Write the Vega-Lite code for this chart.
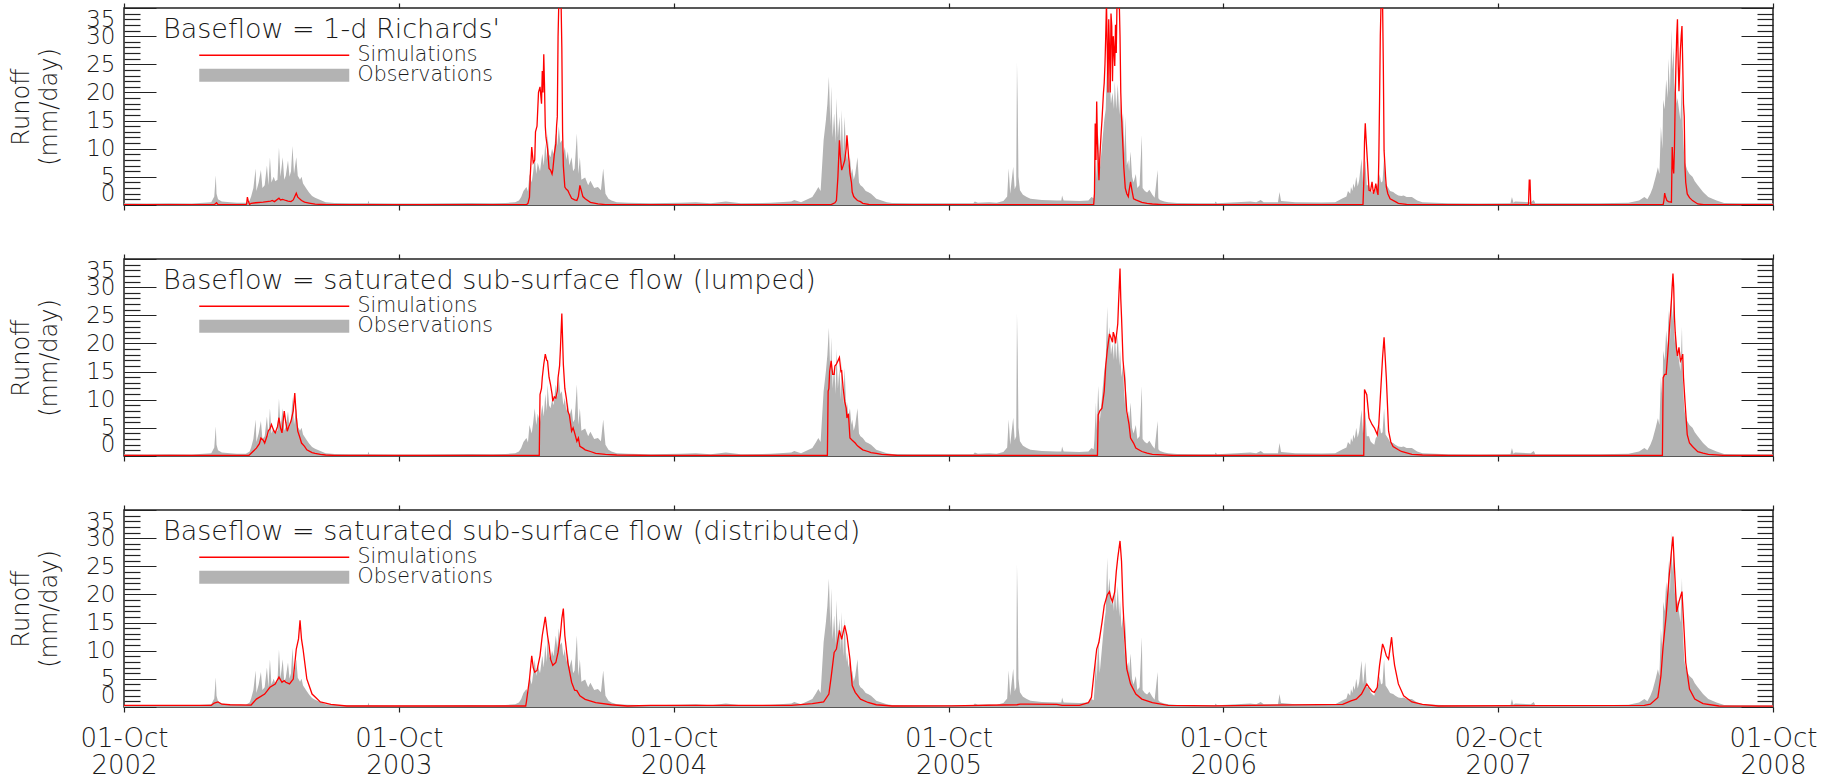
{
"$schema": "https://vega.github.io/schema/vega-lite/v6.json",
"padding": {"left": 8, "top": 1, "right": 5, "bottom": 0},
"datasets": {
"obs": [{"day":0,"q":0.3},{"day":30,"q":0.25},{"day":60,"q":0.3},{"day":90,"q":0.25},{"day":106,"q":0.4},{"day":116,"q":0.5},{"day":120,"q":1.5},{"day":122,"q":5.3},{"day":123,"q":2.0},{"day":125,"q":1.0},{"day":130,"q":0.6},{"day":141,"q":0.5},{"day":150,"q":0.4},{"day":162,"q":0.4},{"day":167,"q":0.8},{"day":169,"q":1.5},{"day":172,"q":3},{"day":175,"q":6.5},{"day":176,"q":2.5},{"day":179,"q":4},{"day":182,"q":6.2},{"day":184,"q":3},{"day":187,"q":3.5},{"day":190,"q":7},{"day":192,"q":3.5},{"day":194,"q":8.5},{"day":196,"q":4},{"day":199,"q":5},{"day":201,"q":4.2},{"day":204,"q":4.5},{"day":206,"q":10.2},{"day":208,"q":5},{"day":211,"q":8.5},{"day":213,"q":4.5},{"day":215,"q":5.2},{"day":218,"q":7.9},{"day":220,"q":5},{"day":222,"q":6},{"day":224,"q":10.5},{"day":226,"q":5.5},{"day":229,"q":8.5},{"day":231,"q":5.2},{"day":234,"q":4.5},{"day":236,"q":5},{"day":238,"q":3.8},{"day":243,"q":2.8},{"day":246,"q":2.2},{"day":250,"q":1.6},{"day":254,"q":1.3},{"day":261,"q":0.9},{"day":268,"q":0.5},{"day":280,"q":0.35},{"day":300,"q":0.3},{"day":324,"q":0.3},{"day":325,"q":0.8},{"day":326,"q":0.3},{"day":360,"q":0.25},{"day":400,"q":0.25},{"day":430,"q":0.3},{"day":460,"q":0.35},{"day":490,"q":0.3},{"day":507,"q":0.35},{"day":520,"q":0.5},{"day":525,"q":0.8},{"day":528,"q":1.4},{"day":531,"q":2.5},{"day":535,"q":3.2},{"day":537,"q":2.4},{"day":539,"q":5.5},{"day":542,"q":4},{"day":544,"q":6},{"day":546,"q":8.5},{"day":548,"q":5.5},{"day":550,"q":7.5},{"day":553,"q":6},{"day":556,"q":9.1},{"day":558,"q":7},{"day":560,"q":11},{"day":562,"q":8},{"day":563,"q":12.7},{"day":565,"q":9},{"day":567,"q":8.5},{"day":569,"q":10},{"day":571,"q":9},{"day":574,"q":12.7},{"day":576,"q":10.5},{"day":578,"q":14},{"day":580,"q":11},{"day":582,"q":11.5},{"day":584,"q":9},{"day":586,"q":10.3},{"day":588,"q":8},{"day":590,"q":9.5},{"day":592,"q":7},{"day":595,"q":8.5},{"day":597,"q":6},{"day":599,"q":6.5},{"day":602,"q":12.7},{"day":604,"q":5.5},{"day":606,"q":8.5},{"day":608,"q":4.5},{"day":613,"q":4.9},{"day":617,"q":3.5},{"day":620,"q":4.3},{"day":625,"q":3},{"day":630,"q":3.2},{"day":634,"q":2.6},{"day":637,"q":6.5},{"day":640,"q":2},{"day":644,"q":1.1},{"day":648,"q":0.8},{"day":655,"q":0.5},{"day":670,"q":0.4},{"day":700,"q":0.3},{"day":740,"q":0.4},{"day":760,"q":0.5},{"day":780,"q":0.3},{"day":800,"q":0.6},{"day":820,"q":0.3},{"day":860,"q":0.4},{"day":887,"q":0.6},{"day":891,"q":0.9},{"day":900,"q":0.5},{"day":915,"q":1.4},{"day":920,"q":2.5},{"day":923,"q":3.2},{"day":926,"q":2.5},{"day":930,"q":11.5},{"day":933,"q":15},{"day":935,"q":18},{"day":937,"q":22.8},{"day":939,"q":14},{"day":940,"q":21.1},{"day":942,"q":12},{"day":944,"q":16.3},{"day":946,"q":11},{"day":947,"q":19},{"day":949,"q":12},{"day":951,"q":15.7},{"day":953,"q":10},{"day":954,"q":16.9},{"day":956,"q":9},{"day":958,"q":15.7},{"day":960,"q":8},{"day":961,"q":9.7},{"day":963,"q":7},{"day":965,"q":8.5},{"day":967,"q":5.5},{"day":968,"q":6.5},{"day":970,"q":4.5},{"day":972,"q":5.5},{"day":975,"q":8.5},{"day":977,"q":4},{"day":979,"q":3.5},{"day":982,"q":3.2},{"day":986,"q":2.5},{"day":989,"q":2.3},{"day":993,"q":2},{"day":997,"q":1.5},{"day":1000,"q":1.1},{"day":1007,"q":0.8},{"day":1014,"q":0.5},{"day":1021,"q":0.35},{"day":1050,"q":0.3},{"day":1100,"q":0.3},{"day":1129,"q":0.3},{"day":1131,"q":0.6},{"day":1135,"q":0.4},{"day":1150,"q":0.5},{"day":1160,"q":0.4},{"day":1169,"q":0.7},{"day":1174,"q":1.5},{"day":1176,"q":6.5},{"day":1178,"q":2},{"day":1182,"q":6.8},{"day":1184,"q":2.8},{"day":1186,"q":3.5},{"day":1187,"q":25.3},{"day":1188,"q":17.8},{"day":1189,"q":5},{"day":1191,"q":2.6},{"day":1195,"q":1.8},{"day":1200,"q":1.4},{"day":1205,"q":1.1},{"day":1220,"q":0.9},{"day":1240,"q":0.8},{"day":1246,"q":0.8},{"day":1247,"q":1.7},{"day":1249,"q":0.8},{"day":1270,"q":0.7},{"day":1282,"q":0.8},{"day":1286,"q":1.4},{"day":1289,"q":1.2},{"day":1290,"q":3},{"day":1292,"q":9.5},{"day":1293,"q":4.5},{"day":1295,"q":12.5},{"day":1297,"q":6},{"day":1300,"q":10.5},{"day":1303,"q":15},{"day":1305,"q":17},{"day":1307,"q":26.5},{"day":1308,"q":20},{"day":1310,"q":22.9},{"day":1312,"q":18},{"day":1314,"q":20},{"day":1316,"q":17},{"day":1317,"q":22},{"day":1319,"q":17},{"day":1321,"q":21.5},{"day":1323,"q":16},{"day":1324,"q":19},{"day":1326,"q":14},{"day":1328,"q":16.3},{"day":1330,"q":9},{"day":1331,"q":15.7},{"day":1333,"q":7},{"day":1335,"q":8},{"day":1336,"q":6},{"day":1338,"q":9.5},{"day":1340,"q":5},{"day":1342,"q":4},{"day":1345,"q":5.5},{"day":1347,"q":3},{"day":1350,"q":3.5},{"day":1353,"q":12.4},{"day":1354,"q":3},{"day":1357,"q":2.5},{"day":1360,"q":2.2},{"day":1363,"q":2.7},{"day":1367,"q":1.8},{"day":1370,"q":1.3},{"day":1374,"q":6.2},{"day":1375,"q":1.2},{"day":1377,"q":0.9},{"day":1383,"q":0.6},{"day":1388,"q":0.48},{"day":1400,"q":0.35},{"day":1430,"q":0.3},{"day":1450,"q":0.3},{"day":1451,"q":0.6},{"day":1453,"q":0.3},{"day":1479,"q":0.5},{"day":1497,"q":0.6},{"day":1505,"q":0.5},{"day":1511,"q":0.9},{"day":1515,"q":0.5},{"day":1534,"q":0.5},{"day":1536,"q":2.3},{"day":1538,"q":0.7},{"day":1557,"q":0.48},{"day":1592,"q":0.45},{"day":1610,"q":0.5},{"day":1620,"q":1.2},{"day":1625,"q":1.5},{"day":1627,"q":2.5},{"day":1630,"q":2},{"day":1631,"q":3.2},{"day":1633,"q":2.5},{"day":1634,"q":3.8},{"day":1636,"q":3},{"day":1638,"q":5},{"day":1640,"q":3.3},{"day":1642,"q":4.5},{"day":1645,"q":8.2},{"day":1647,"q":4},{"day":1648,"q":5},{"day":1650,"q":8},{"day":1652,"q":3.5},{"day":1655,"q":3.5},{"day":1657,"q":2.6},{"day":1659,"q":2.3},{"day":1662,"q":2},{"day":1664,"q":3.2},{"day":1666,"q":3.5},{"day":1668,"q":4.3},{"day":1669,"q":5.5},{"day":1671,"q":4},{"day":1673,"q":4.2},{"day":1675,"q":8.5},{"day":1677,"q":3.8},{"day":1680,"q":3.2},{"day":1683,"q":2.5},{"day":1687,"q":2.3},{"day":1690,"q":2},{"day":1694,"q":1.7},{"day":1698,"q":1.6},{"day":1701,"q":1.7},{"day":1705,"q":1.4},{"day":1712,"q":1.4},{"day":1719,"q":0.8},{"day":1726,"q":0.5},{"day":1760,"q":0.3},{"day":1800,"q":0.25},{"day":1843,"q":0.3},{"day":1845,"q":1.4},{"day":1847,"q":0.4},{"day":1849,"q":0.6},{"day":1870,"q":0.5},{"day":1874,"q":0.9},{"day":1876,"q":0.3},{"day":1916,"q":0.3},{"day":1960,"q":0.3},{"day":2000,"q":0.4},{"day":2014,"q":0.8},{"day":2021,"q":1.4},{"day":2025,"q":1.0},{"day":2029,"q":2},{"day":2032,"q":3},{"day":2036,"q":5},{"day":2039,"q":6.7},{"day":2041,"q":5.5},{"day":2043,"q":13.9},{"day":2045,"q":10},{"day":2046,"q":18.7},{"day":2048,"q":17},{"day":2050,"q":22.3},{"day":2052,"q":19},{"day":2053,"q":26},{"day":2055,"q":20},{"day":2057,"q":31.2},{"day":2058,"q":24},{"day":2060,"q":28},{"day":2061,"q":20},{"day":2062,"q":22.5},{"day":2064,"q":18},{"day":2065,"q":19},{"day":2067,"q":17},{"day":2069,"q":15},{"day":2071,"q":22.9},{"day":2072,"q":14},{"day":2074,"q":8.5},{"day":2075,"q":7.5},{"day":2078,"q":6.2},{"day":2081,"q":5.5},{"day":2085,"q":5},{"day":2088,"q":4.2},{"day":2092,"q":3.5},{"day":2099,"q":2.3},{"day":2106,"q":1.4},{"day":2113,"q":1},{"day":2117,"q":0.8},{"day":2127,"q":0.35},{"day":2150,"q":0.3},{"day":2192,"q":0.3}],
"sim1": [{"day":0,"q":0.05},{"day":120,"q":0.05},{"day":123,"q":0.4},{"day":125,"q":0.05},{"day":162,"q":0.05},{"day":163,"q":0.2},{"day":164,"q":1.4},{"day":165,"q":0.8},{"day":167,"q":0.1},{"day":169,"q":0.3},{"day":175,"q":0.4},{"day":185,"q":0.5},{"day":195,"q":0.7},{"day":197,"q":0.8},{"day":200,"q":0.6},{"day":206,"q":1.2},{"day":208,"q":0.9},{"day":211,"q":1.0},{"day":215,"q":0.8},{"day":218,"q":0.7},{"day":222,"q":0.6},{"day":225,"q":0.9},{"day":229,"q":2.1},{"day":231,"q":1.4},{"day":236,"q":0.8},{"day":240,"q":0.5},{"day":246,"q":0.35},{"day":254,"q":0.15},{"day":270,"q":0.05},{"day":535,"q":0.05},{"day":537,"q":0.3},{"day":539,"q":1.4},{"day":540,"q":5},{"day":542,"q":10.3},{"day":544,"q":7.5},{"day":546,"q":8},{"day":547,"q":13},{"day":549,"q":14},{"day":551,"q":20},{"day":553,"q":21},{"day":555,"q":18},{"day":556,"q":23.8},{"day":557,"q":20},{"day":558,"q":26.8},{"day":559,"q":21},{"day":560,"q":14},{"day":561,"q":12},{"day":563,"q":10},{"day":565,"q":6.5},{"day":567,"q":6.2},{"day":569,"q":5.5},{"day":570,"q":6.2},{"day":572,"q":9},{"day":574,"q":10.9},{"day":575,"q":14},{"day":576,"q":15.7},{"day":577,"q":30},{"day":578,"q":36},{"day":580,"q":36},{"day":581,"q":36},{"day":582,"q":28},{"day":583,"q":13},{"day":584,"q":7},{"day":586,"q":3.2},{"day":588,"q":2.8},{"day":590,"q":2.6},{"day":592,"q":2.0},{"day":595,"q":1.2},{"day":599,"q":0.9},{"day":602,"q":0.8},{"day":604,"q":1.5},{"day":606,"q":3.5},{"day":608,"q":2.5},{"day":610,"q":1.5},{"day":613,"q":1.1},{"day":620,"q":0.48},{"day":630,"q":0.2},{"day":640,"q":0.06},{"day":940,"q":0.06},{"day":945,"q":0.4},{"day":947,"q":0.8},{"day":949,"q":5},{"day":951,"q":11.5},{"day":952,"q":9},{"day":954,"q":6.2},{"day":956,"q":7},{"day":958,"q":7.9},{"day":960,"q":10},{"day":961,"q":12.4},{"day":963,"q":9},{"day":965,"q":5.6},{"day":967,"q":4},{"day":968,"q":2.3},{"day":970,"q":1.5},{"day":972,"q":1.2},{"day":975,"q":0.8},{"day":979,"q":0.6},{"day":982,"q":0.3},{"day":990,"q":0.1},{"day":1000,"q":0.05},{"day":1289,"q":0.05},{"day":1290,"q":2},{"day":1291,"q":14.5},{"day":1292,"q":8},{"day":1293,"q":18.4},{"day":1294,"q":11},{"day":1296,"q":4.4},{"day":1297,"q":8},{"day":1299,"q":13},{"day":1300,"q":15},{"day":1302,"q":20},{"day":1303,"q":21.7},{"day":1304,"q":25},{"day":1305,"q":30},{"day":1306,"q":36},{"day":1307,"q":28},{"day":1308,"q":20},{"day":1309,"q":33},{"day":1310,"q":27.7},{"day":1311,"q":20},{"day":1312,"q":34},{"day":1313,"q":31.8},{"day":1314,"q":22},{"day":1315,"q":30},{"day":1317,"q":24.7},{"day":1318,"q":32},{"day":1319,"q":27},{"day":1320,"q":36},{"day":1321,"q":36},{"day":1322,"q":36},{"day":1323,"q":36},{"day":1324,"q":30},{"day":1325,"q":20},{"day":1326,"q":15.7},{"day":1328,"q":10},{"day":1329,"q":6.75},{"day":1331,"q":3},{"day":1333,"q":2},{"day":1335,"q":1.5},{"day":1336,"q":2.5},{"day":1338,"q":4.1},{"day":1340,"q":2.5},{"day":1342,"q":1.1},{"day":1345,"q":0.9},{"day":1353,"q":0.48},{"day":1360,"q":0.3},{"day":1367,"q":0.18},{"day":1380,"q":0.06},{"day":1647,"q":0.1},{"day":1648,"q":4},{"day":1649,"q":11.2},{"day":1650,"q":14.5},{"day":1651,"q":12},{"day":1653,"q":7.5},{"day":1655,"q":2.6},{"day":1657,"q":2.5},{"day":1659,"q":4.1},{"day":1660,"q":3},{"day":1661,"q":2},{"day":1663,"q":3},{"day":1664,"q":3.8},{"day":1666,"q":2.3},{"day":1667,"q":1.8},{"day":1668,"q":8},{"day":1669,"q":18.4},{"day":1670,"q":30},{"day":1671,"q":36},{"day":1672,"q":36},{"day":1673,"q":36},{"day":1674,"q":25},{"day":1675,"q":9.7},{"day":1677,"q":5},{"day":1678,"q":3.2},{"day":1680,"q":2},{"day":1683,"q":1.1},{"day":1690,"q":0.6},{"day":1694,"q":0.3},{"day":1705,"q":0.1},{"day":1720,"q":0.05},{"day":1867,"q":0.05},{"day":1868,"q":4.4},{"day":1869,"q":4.4},{"day":1870,"q":0.05},{"day":2046,"q":0.05},{"day":2047,"q":0.8},{"day":2048,"q":2.1},{"day":2049,"q":1.5},{"day":2051,"q":0.78},{"day":2053,"q":0.6},{"day":2057,"q":0.5},{"day":2058,"q":10.3},{"day":2059,"q":7},{"day":2060,"q":5.6},{"day":2061,"q":10},{"day":2062,"q":18.7},{"day":2063,"q":25},{"day":2064,"q":30},{"day":2065,"q":33},{"day":2066,"q":25},{"day":2067,"q":20.2},{"day":2068,"q":24},{"day":2069,"q":27.7},{"day":2070,"q":30},{"day":2071,"q":31.8},{"day":2072,"q":25},{"day":2073,"q":18},{"day":2074,"q":15.7},{"day":2075,"q":6.75},{"day":2076,"q":4},{"day":2078,"q":1.97},{"day":2081,"q":1.3},{"day":2085,"q":0.78},{"day":2092,"q":0.18},{"day":2100,"q":0.05},{"day":2192,"q":0.05}],
"sim2": [{"day":0,"q":0.1},{"day":166,"q":0.1},{"day":169,"q":0.5},{"day":176,"q":1.4},{"day":180,"q":2.2},{"day":182,"q":3.2},{"day":185,"q":2.8},{"day":187,"q":2.3},{"day":190,"q":3.5},{"day":192,"q":4.5},{"day":194,"q":4.8},{"day":196,"q":5.6},{"day":199,"q":4.5},{"day":201,"q":4.1},{"day":204,"q":5.2},{"day":206,"q":6.8},{"day":208,"q":5.0},{"day":210,"q":4.1},{"day":213,"q":8},{"day":215,"q":6},{"day":217,"q":4.4},{"day":219,"q":5.2},{"day":220,"q":5.5},{"day":222,"q":6.2},{"day":225,"q":8},{"day":227,"q":11.2},{"day":229,"q":7},{"day":231,"q":4.4},{"day":234,"q":3.2},{"day":236,"q":2.3},{"day":240,"q":1.7},{"day":243,"q":1.1},{"day":250,"q":0.6},{"day":254,"q":0.48},{"day":261,"q":0.3},{"day":268,"q":0.18},{"day":280,"q":0.1},{"day":552,"q":0.1},{"day":553,"q":10.9},{"day":555,"q":12},{"day":556,"q":13.9},{"day":558,"q":16.3},{"day":560,"q":18.1},{"day":562,"q":17},{"day":563,"q":16.9},{"day":565,"q":14},{"day":567,"q":12.7},{"day":569,"q":11},{"day":570,"q":9.7},{"day":572,"q":10.5},{"day":574,"q":10.3},{"day":576,"q":11.5},{"day":577,"q":13.9},{"day":579,"q":16},{"day":580,"q":18.7},{"day":582,"q":25.3},{"day":584,"q":16.3},{"day":586,"q":12},{"day":588,"q":10.3},{"day":590,"q":8},{"day":592,"q":7.3},{"day":595,"q":4.4},{"day":597,"q":5},{"day":599,"q":4.1},{"day":602,"q":2.6},{"day":604,"q":3.2},{"day":606,"q":1.7},{"day":610,"q":1.4},{"day":613,"q":1.1},{"day":620,"q":0.8},{"day":627,"q":0.48},{"day":640,"q":0.3},{"day":655,"q":0.18},{"day":700,"q":0.1},{"day":935,"q":0.1},{"day":936,"q":11.5},{"day":937,"q":12},{"day":938,"q":15},{"day":940,"q":16.9},{"day":942,"q":14.5},{"day":944,"q":14.5},{"day":945,"q":16},{"day":947,"q":16.3},{"day":949,"q":16.9},{"day":951,"q":17.5},{"day":953,"q":15},{"day":954,"q":15.1},{"day":956,"q":12},{"day":958,"q":9.7},{"day":960,"q":8.5},{"day":961,"q":6.75},{"day":963,"q":7.5},{"day":965,"q":3.2},{"day":968,"q":2.8},{"day":972,"q":2.3},{"day":975,"q":1.8},{"day":979,"q":1.4},{"day":982,"q":1.1},{"day":989,"q":0.8},{"day":993,"q":0.6},{"day":1000,"q":0.48},{"day":1007,"q":0.3},{"day":1021,"q":0.18},{"day":1028,"q":0.1},{"day":1294,"q":0.1},{"day":1295,"q":7.3},{"day":1297,"q":8},{"day":1300,"q":8.5},{"day":1303,"q":11.5},{"day":1305,"q":16},{"day":1307,"q":18.7},{"day":1310,"q":21.7},{"day":1312,"q":21},{"day":1314,"q":20.2},{"day":1315,"q":22},{"day":1317,"q":21.1},{"day":1318,"q":20},{"day":1320,"q":22.3},{"day":1321,"q":23.5},{"day":1322,"q":27},{"day":1324,"q":33.3},{"day":1325,"q":28},{"day":1326,"q":24.7},{"day":1328,"q":17},{"day":1330,"q":13.9},{"day":1333,"q":7.9},{"day":1336,"q":5.6},{"day":1338,"q":3.2},{"day":1342,"q":2.3},{"day":1345,"q":1.4},{"day":1353,"q":0.8},{"day":1360,"q":0.5},{"day":1367,"q":0.3},{"day":1395,"q":0.1},{"day":1648,"q":0.1},{"day":1649,"q":11.8},{"day":1650,"q":11.5},{"day":1652,"q":10.9},{"day":1655,"q":6.75},{"day":1659,"q":5.6},{"day":1662,"q":5},{"day":1666,"q":3.8},{"day":1668,"q":5.6},{"day":1671,"q":12.7},{"day":1673,"q":17.5},{"day":1675,"q":21.1},{"day":1678,"q":13.9},{"day":1681,"q":4.4},{"day":1684,"q":2.5},{"day":1687,"q":1.7},{"day":1694,"q":1.1},{"day":1698,"q":0.8},{"day":1712,"q":0.3},{"day":1726,"q":0.18},{"day":1761,"q":0.1},{"day":2045,"q":0.1},{"day":2046,"q":13.9},{"day":2048,"q":14.5},{"day":2050,"q":14.5},{"day":2052,"q":18},{"day":2053,"q":19.9},{"day":2055,"q":24},{"day":2057,"q":27.7},{"day":2059,"q":32.4},{"day":2060,"q":30},{"day":2061,"q":24.7},{"day":2062,"q":22},{"day":2064,"q":18.7},{"day":2065,"q":17.8},{"day":2067,"q":19.3},{"day":2069,"q":16.9},{"day":2071,"q":17.5},{"day":2072,"q":18.1},{"day":2073,"q":14},{"day":2075,"q":9.7},{"day":2078,"q":3.8},{"day":2081,"q":2.3},{"day":2085,"q":1.7},{"day":2092,"q":0.78},{"day":2099,"q":0.5},{"day":2106,"q":0.3},{"day":2127,"q":0.1},{"day":2192,"q":0.1}],
"sim3": [{"day":0,"q":0.3},{"day":116,"q":0.3},{"day":120,"q":0.7},{"day":125,"q":0.9},{"day":130,"q":0.5},{"day":141,"q":0.4},{"day":169,"q":0.35},{"day":176,"q":1.4},{"day":187,"q":2.3},{"day":194,"q":3.5},{"day":201,"q":4.1},{"day":206,"q":5.3},{"day":210,"q":4.4},{"day":213,"q":4.7},{"day":215,"q":4.4},{"day":220,"q":4.1},{"day":225,"q":4.96},{"day":229,"q":10.3},{"day":232,"q":12.1},{"day":234,"q":15.4},{"day":236,"q":12},{"day":238,"q":10.3},{"day":243,"q":5},{"day":250,"q":2.3},{"day":261,"q":0.9},{"day":275,"q":0.48},{"day":296,"q":0.18},{"day":534,"q":0.18},{"day":535,"q":1.0},{"day":539,"q":4.96},{"day":542,"q":9.1},{"day":544,"q":7},{"day":546,"q":6.2},{"day":549,"q":6.5},{"day":553,"q":9.1},{"day":556,"q":12.7},{"day":560,"q":16},{"day":563,"q":12.7},{"day":565,"q":11},{"day":567,"q":8.5},{"day":570,"q":7.4},{"day":574,"q":7.9},{"day":577,"q":9.7},{"day":580,"q":12.7},{"day":582,"q":15.7},{"day":584,"q":17.5},{"day":586,"q":12.7},{"day":590,"q":7.9},{"day":592,"q":6.5},{"day":595,"q":4.4},{"day":599,"q":3},{"day":602,"q":2.9},{"day":606,"q":2},{"day":613,"q":1.37},{"day":627,"q":0.78},{"day":648,"q":0.4},{"day":669,"q":0.18},{"day":700,"q":0.3},{"day":800,"q":0.3},{"day":887,"q":0.3},{"day":915,"q":0.6},{"day":930,"q":0.9},{"day":937,"q":2.3},{"day":940,"q":5.3},{"day":944,"q":9.7},{"day":947,"q":10.3},{"day":951,"q":13.6},{"day":954,"q":12},{"day":958,"q":14.5},{"day":961,"q":12.7},{"day":965,"q":8.5},{"day":968,"q":3.8},{"day":972,"q":2.6},{"day":979,"q":1.4},{"day":989,"q":0.8},{"day":1000,"q":0.4},{"day":1021,"q":0.18},{"day":1100,"q":0.2},{"day":1187,"q":0.4},{"day":1191,"q":0.5},{"day":1200,"q":0.5},{"day":1240,"q":0.45},{"day":1247,"q":0.3},{"day":1270,"q":0.3},{"day":1282,"q":0.78},{"day":1286,"q":1.7},{"day":1289,"q":5.5},{"day":1291,"q":7.9},{"day":1293,"q":10.3},{"day":1296,"q":11.5},{"day":1300,"q":15},{"day":1303,"q":18},{"day":1307,"q":19.9},{"day":1310,"q":20.5},{"day":1312,"q":19.3},{"day":1314,"q":18.7},{"day":1317,"q":20.5},{"day":1319,"q":24},{"day":1321,"q":26.5},{"day":1324,"q":29.5},{"day":1326,"q":25.9},{"day":1328,"q":18},{"day":1330,"q":12.7},{"day":1333,"q":6.75},{"day":1338,"q":4.1},{"day":1345,"q":2.3},{"day":1353,"q":1.4},{"day":1367,"q":0.78},{"day":1388,"q":0.3},{"day":1450,"q":0.2},{"day":1620,"q":0.48},{"day":1631,"q":1.1},{"day":1638,"q":1.4},{"day":1645,"q":2.3},{"day":1652,"q":4.1},{"day":1655,"q":3.5},{"day":1659,"q":2.8},{"day":1662,"q":2.6},{"day":1666,"q":3.5},{"day":1669,"q":7.4},{"day":1673,"q":11.2},{"day":1675,"q":10.5},{"day":1678,"q":9.1},{"day":1681,"q":8.5},{"day":1685,"q":12.4},{"day":1687,"q":9.5},{"day":1689,"q":7.4},{"day":1694,"q":4.1},{"day":1701,"q":2},{"day":1712,"q":0.9},{"day":1726,"q":0.48},{"day":1747,"q":0.18},{"day":2021,"q":0.3},{"day":2029,"q":0.5},{"day":2039,"q":1.7},{"day":2043,"q":5.5},{"day":2046,"q":10.9},{"day":2050,"q":16.3},{"day":2053,"q":21.7},{"day":2057,"q":27.7},{"day":2059,"q":30.3},{"day":2061,"q":24.7},{"day":2064,"q":16.9},{"day":2067,"q":18.7},{"day":2071,"q":20.5},{"day":2073,"q":15.7},{"day":2076,"q":7.9},{"day":2081,"q":3.2},{"day":2088,"q":1.4},{"day":2099,"q":0.6},{"day":2120,"q":0.18},{"day":2192,"q":0.15}]
},
"spacing": 39,
"resolve": {"scale": {"stroke": "independent", "fill": "independent"}, "legend": {"stroke": "independent", "fill": "independent"}},
"vconcat": [
{
 "width": 1649, "height": 197,
 "title": {"text": "Baseflow = 1-d Richards'", "anchor": "start", "frame": "group", "offset": -34, "dx": 39, "dy": 29, "baseline": "alphabetic"},
 "resolve": {"axis": {"x": "independent", "y": "independent"}},
 "layer": [
  {"data": {"name": "obs"}, "mark": {"type": "area", "clip": true},
   "encoding": {
    "x": {"field": "day", "type": "quantitative", "scale": {"domain": [0, 2192], "nice": false, "zero": false},
          "axis": {"orient": "bottom", "values": [0, 365.33, 730.67, 1096, 1461.33, 1826.67, 2192], "labels": false, "tickSize": 5, "title": null}},
    "y": {"field": "q", "type": "quantitative", "scale": {"domain": [0, 35], "nice": false},
          "axis": {"orient": "left", "values": [0,1,2,3,4,5,6,7,8,9,10,11,12,13,14,15,16,17,18,19,20,21,22,23,24,25,26,27,28,29,30,31,32,33,34,35], "labelExpr": "datum.value % 5 === 0 ? datum.label : ''", "tickSize": {"condition": {"test": "datum.value % 5 === 0", "value": -32}, "value": -16}, "labelPadding": 41, "labelFlush": true, "labelOverlap": false, "title": ["Runoff", "(mm/day)"], "titlePadding": 24, "titleLineHeight": 28}},
    "fill": {"datum": "Observations", "scale": {"range": ["#b3b3b3"]}, "legend": {"orient": "none", "legendX": 210, "legendY": 57, "title": null, "symbolType": "M-29,-1.3H1V1.3H-29Z", "symbolSize": 100, "symbolStrokeWidth": 0, "labelOffset": 3}}
   }},
  {"data": {"name": "sim1"}, "mark": {"type": "line", "clip": true, "strokeWidth": 1.3},
   "encoding": {
    "x": {"field": "day", "type": "quantitative", "axis": {"orient": "top", "values": [0, 365.33, 730.67, 1096, 1461.33, 1826.67, 2192], "labels": false, "tickSize": 5, "title": null}},
    "y": {"field": "q", "type": "quantitative", "axis": {"orient": "right", "values": [0,1,2,3,4,5,6,7,8,9,10,11,12,13,14,15,16,17,18,19,20,21,22,23,24,25,26,27,28,29,30,31,32,33,34,35], "labels": false, "tickSize": {"condition": {"test": "datum.value % 5 === 0", "value": -32}, "value": -16}, "title": null}},
    "stroke": {"datum": "Simulations", "scale": {"range": ["#ff0000"]}, "legend": {"orient": "none", "legendX": 210, "legendY": 37, "title": null, "symbolType": "M-29,0H1", "symbolSize": 100, "symbolStrokeWidth": 1.5, "labelOffset": 3}}
   }}
 ]
},
{
 "width": 1649, "height": 197,
 "title": {"text": "Baseflow = saturated sub-surface flow (lumped)", "anchor": "start", "frame": "group", "offset": -34, "dx": 39, "dy": 29, "baseline": "alphabetic"},
 "resolve": {"axis": {"x": "independent", "y": "independent"}},
 "layer": [
  {"data": {"name": "obs"}, "mark": {"type": "area", "clip": true},
   "encoding": {
    "x": {"field": "day", "type": "quantitative", "scale": {"domain": [0, 2192], "nice": false, "zero": false},
          "axis": {"orient": "bottom", "values": [0, 365.33, 730.67, 1096, 1461.33, 1826.67, 2192], "labels": false, "tickSize": 5, "title": null}},
    "y": {"field": "q", "type": "quantitative", "scale": {"domain": [0, 35], "nice": false},
          "axis": {"orient": "left", "values": [0,1,2,3,4,5,6,7,8,9,10,11,12,13,14,15,16,17,18,19,20,21,22,23,24,25,26,27,28,29,30,31,32,33,34,35], "labelExpr": "datum.value % 5 === 0 ? datum.label : ''", "tickSize": {"condition": {"test": "datum.value % 5 === 0", "value": -32}, "value": -16}, "labelPadding": 41, "labelFlush": true, "labelOverlap": false, "title": ["Runoff", "(mm/day)"], "titlePadding": 24, "titleLineHeight": 28}},
    "fill": {"datum": "Observations", "scale": {"range": ["#b3b3b3"]}, "legend": {"orient": "none", "legendX": 210, "legendY": 57, "title": null, "symbolType": "M-29,-1.3H1V1.3H-29Z", "symbolSize": 100, "symbolStrokeWidth": 0, "labelOffset": 3}}
   }},
  {"data": {"name": "sim2"}, "mark": {"type": "line", "clip": true, "strokeWidth": 1.3},
   "encoding": {
    "x": {"field": "day", "type": "quantitative", "axis": {"orient": "top", "values": [0, 365.33, 730.67, 1096, 1461.33, 1826.67, 2192], "labels": false, "tickSize": 5, "title": null}},
    "y": {"field": "q", "type": "quantitative", "axis": {"orient": "right", "values": [0,1,2,3,4,5,6,7,8,9,10,11,12,13,14,15,16,17,18,19,20,21,22,23,24,25,26,27,28,29,30,31,32,33,34,35], "labels": false, "tickSize": {"condition": {"test": "datum.value % 5 === 0", "value": -32}, "value": -16}, "title": null}},
    "stroke": {"datum": "Simulations", "scale": {"range": ["#ff0000"]}, "legend": {"orient": "none", "legendX": 210, "legendY": 37, "title": null, "symbolType": "M-29,0H1", "symbolSize": 100, "symbolStrokeWidth": 1.5, "labelOffset": 3}}
   }}
 ]
},
{
 "width": 1649, "height": 197,
 "title": {"text": "Baseflow = saturated sub-surface flow (distributed)", "anchor": "start", "frame": "group", "offset": -34, "dx": 39, "dy": 29, "baseline": "alphabetic"},
 "resolve": {"axis": {"x": "independent", "y": "independent"}},
 "layer": [
  {"data": {"name": "obs"}, "mark": {"type": "area", "clip": true},
   "encoding": {
    "x": {"field": "day", "type": "quantitative", "scale": {"domain": [0, 2192], "nice": false, "zero": false},
          "axis": {"orient": "bottom", "values": [0, 365.33, 730.67, 1096, 1461.33, 1826.67, 2192], "labelExpr": "[round(datum.value/365.33) == 5 ? '02-Oct' : '01-Oct', '' + (2002 + round(datum.value/365.33))]", "labelFlush": false, "labelOverlap": false, "labelFontSize": 26, "labelLineHeight": 27, "labelPadding": 13, "tickSize": 5, "title": null}},
    "y": {"field": "q", "type": "quantitative", "scale": {"domain": [0, 35], "nice": false},
          "axis": {"orient": "left", "values": [0,1,2,3,4,5,6,7,8,9,10,11,12,13,14,15,16,17,18,19,20,21,22,23,24,25,26,27,28,29,30,31,32,33,34,35], "labelExpr": "datum.value % 5 === 0 ? datum.label : ''", "tickSize": {"condition": {"test": "datum.value % 5 === 0", "value": -32}, "value": -16}, "labelPadding": 41, "labelFlush": true, "labelOverlap": false, "title": ["Runoff", "(mm/day)"], "titlePadding": 24, "titleLineHeight": 28}},
    "fill": {"datum": "Observations", "scale": {"range": ["#b3b3b3"]}, "legend": {"orient": "none", "legendX": 210, "legendY": 57, "title": null, "symbolType": "M-29,-1.3H1V1.3H-29Z", "symbolSize": 100, "symbolStrokeWidth": 0, "labelOffset": 3}}
   }},
  {"data": {"name": "sim3"}, "mark": {"type": "line", "clip": true, "strokeWidth": 1.3},
   "encoding": {
    "x": {"field": "day", "type": "quantitative", "axis": {"orient": "top", "values": [0, 365.33, 730.67, 1096, 1461.33, 1826.67, 2192], "labels": false, "tickSize": 5, "title": null}},
    "y": {"field": "q", "type": "quantitative", "axis": {"orient": "right", "values": [0,1,2,3,4,5,6,7,8,9,10,11,12,13,14,15,16,17,18,19,20,21,22,23,24,25,26,27,28,29,30,31,32,33,34,35], "labels": false, "tickSize": {"condition": {"test": "datum.value % 5 === 0", "value": -32}, "value": -16}, "title": null}},
    "stroke": {"datum": "Simulations", "scale": {"range": ["#ff0000"]}, "legend": {"orient": "none", "legendX": 210, "legendY": 37, "title": null, "symbolType": "M-29,0H1", "symbolSize": 100, "symbolStrokeWidth": 1.5, "labelOffset": 3}}
   }}
 ]
}
],
"config": {
 "font": "DejaVu Sans",
 "view": {"stroke": "#222222", "strokeWidth": 1.5},
 "axis": {"domain": false, "grid": false, "labelFont": "DejaVu Sans", "labelFontSize": 23, "labelFontWeight": 200, "labelColor": "#1a1a1a", "titleFont": "DejaVu Sans", "titleFontSize": 24, "titleFontWeight": 200, "titleColor": "#1a1a1a", "tickColor": "#222222", "tickWidth": 1.2},
 "legend": {"labelFont": "DejaVu Sans", "labelFontSize": 20.5, "labelFontWeight": 200, "labelColor": "#1a1a1a", "padding": 0},
 "title": {"font": "DejaVu Sans", "fontSize": 27, "fontWeight": 200, "color": "#1a1a1a"}
}
}
